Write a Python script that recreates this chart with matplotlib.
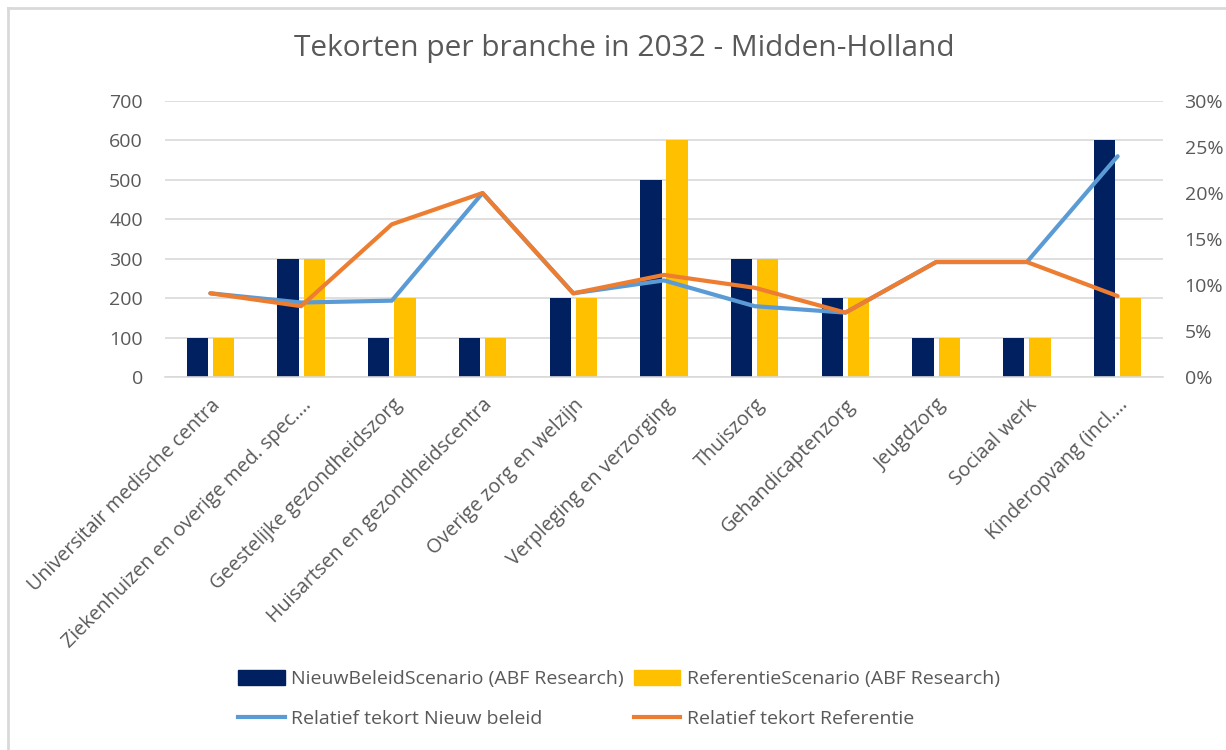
import numpy as np
import matplotlib
matplotlib.use("Agg")
import matplotlib.pyplot as plt
from matplotlib.lines import Line2D
from matplotlib.patches import Patch
from matplotlib.ticker import PercentFormatter

plt.rcParams['font.family'] = ['Open Sans', 'DejaVu Sans']

# data
branches = [
    "Universitair medische centra",
    "Ziekenhuizen en overige med. spec.\u2026",
    "Geestelijke gezondheidszorg",
    "Huisartsen en gezondheidscentra",
    "Overige zorg en welzijn",
    "Verpleging en verzorging",
    "Thuiszorg",
    "Gehandicaptenzorg",
    "Jeugdzorg",
    "Sociaal werk",
    "Kinderopvang (incl.\u2026",
]
nieuw_beleid = [100, 300, 100, 100, 200, 500, 300, 200, 100, 100, 600]
referentie = [100, 300, 200, 100, 200, 600, 300, 200, 100, 100, 200]
rel_nieuw = [9.1, 8.1, 8.3, 20.0, 9.1, 10.5, 7.7, 7.0, 12.5, 12.5, 24.0]
rel_ref = [9.1, 7.7, 16.6, 20.0, 9.1, 11.1, 9.7, 7.0, 12.5, 12.5, 8.8]

NAVY = "#002060"
GOLD = "#FFC000"
BLUE = "#5B9BD5"
ORANGE = "#ED7D31"
TEXT = "#595959"
GRID = "#D9D9D9"

fig = plt.figure(figsize=(12.26, 7.5), dpi=100)
ax = fig.add_axes([0.1346, 0.4973, 0.814, 0.368])
ax2 = ax.twinx()

x = np.arange(len(branches))
w = 0.234
gap = 0.055
ax.bar(x - (w + gap) / 2, nieuw_beleid, w, color=NAVY, zorder=2)
ax.bar(x + (w + gap) / 2, referentie, w, color=GOLD, zorder=2)

ax2.plot(x, rel_nieuw, color=BLUE, lw=3, solid_capstyle='round', solid_joinstyle='round')
ax2.plot(x, rel_ref, color=ORANGE, lw=3, solid_capstyle='round', solid_joinstyle='round')

ax.set_xlim(-0.5, len(branches) - 0.5)
ax.set_ylim(0, 700)
ax.set_yticks(range(0, 701, 100))
ax2.set_ylim(0, 30)
ax2.set_yticks(range(0, 31, 5))
ax2.yaxis.set_major_formatter(PercentFormatter(decimals=0))

ax.yaxis.grid(True, color=GRID, lw=1.2)
ax.set_axisbelow(True)
for a in (ax, ax2):
    for s in a.spines.values():
        s.set_visible(False)
    a.tick_params(length=0, colors=TEXT, labelsize=14)
ax.spines['bottom'].set_visible(True)
ax.spines['bottom'].set_color(GRID)
ax.spines['bottom'].set_linewidth(1.2)
ax.tick_params(axis='y', pad=16)
ax2.tick_params(axis='y', pad=15.5)

ax.set_xticks(x)
ax.set_xticklabels(branches, rotation=45, ha='right', rotation_mode='anchor',
                   fontsize=14.2, color=TEXT)
ax.tick_params(axis='x', pad=13)

fig.text(0.509, 0.935, "Tekorten per branche in 2032 - Midden-Holland",
         ha='center', va='center', fontsize=21.5, color=TEXT)

handles = [
    Patch(color=NAVY), Line2D([], [], color=BLUE, lw=3),
    Patch(color=GOLD), Line2D([], [], color=ORANGE, lw=3),
]
labels = [
    "NieuwBeleidScenario (ABF Research)", "Relatief tekort Nieuw beleid",
    "ReferentieScenario (ABF Research)", "Relatief tekort Referentie",
]
leg = fig.legend(handles, labels, ncol=2, loc='center', bbox_to_anchor=(0.505, 0.068),
                 frameon=False, fontsize=14, handlelength=2.4, handleheight=0.8,
                 handletextpad=0.35, columnspacing=0.5, labelspacing=1.1)
for t in leg.get_texts():
    t.set_color(TEXT)

# chart border (left and top edges visible in the reference)
fig.add_artist(Line2D([0.0065, 0.0065], [0, 0.99], color=GRID, lw=2, transform=fig.transFigure))
fig.add_artist(Line2D([0.0065, 1], [0.99, 0.99], color=GRID, lw=2, transform=fig.transFigure))

fig.savefig("out.png", dpi=100, facecolor='white')
